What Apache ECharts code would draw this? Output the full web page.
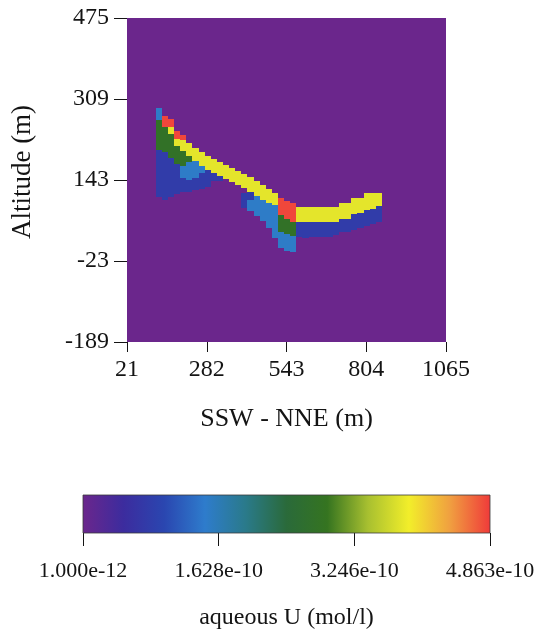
<!DOCTYPE html>
<html>
<head>
<meta charset="utf-8">
<script src="https://cdn.jsdelivr.net/npm/echarts@6/dist/echarts.min.js"></script>
<style>
  html, body { margin: 0; padding: 0; background: #ffffff; }
  #chart { width: 542px; height: 631px; }
</style>
</head>
<body>
<div id="chart"></div>
<script>
// Axis ticks of the cross-section and of the concentration colour bar
const X_TICKS = [21, 282, 543, 804, 1065];
const Y_TICKS = [-189, -23, 143, 309, 475];
const CBAR_TICKS = [1.000e-12, 1.628e-10, 3.246e-10, 4.863e-10];

// Colour table for aqueous U, evenly spaced from the lowest to the highest value
const COLORMAP = [
  '#6b268c', '#3c2c9e', '#2a46b0', '#2e7ccc', '#2a7a8a', '#2a6a3a',
  '#357420', '#a8c030', '#f2ee2a', '#f0a040', '#f03a3a'
];

// Concentration (mol/l) carried by each zone of the plume
const U_BACKGROUND = 1.0e-12;
const U_DEEP_BLUE = 8.0e-11;
const U_BLUE = 1.5e-10;
const U_GREEN = 2.8e-10;
const U_YELLOW = 3.8e-10;
const U_RED = 4.8e-10;

// Model domain: [xMin, xMax, yMin, yMax] in metres
const DOMAIN = [21, 1065, -189, 475];

// Mesh column width (m)
const CELL_W = 20;

// Plume cells per zone: [column centre x (m), top altitude (m), bottom altitude (m)]
const redCells = [
  [145, 275, 252], [165, 267, 252], [185, 244, 228], [205, 236, 224],
  [525, 107, 72], [545, 100, 64], [565, 96, 57]
];
const yellowCells = [
  [165, 252, 238], [185, 228, 213], [205, 224, 203], [225, 219, 192],
  [245, 209, 181], [265, 201, 172], [285, 193, 164], [305, 187, 158],
  [325, 180, 151], [345, 174, 145], [365, 168, 139], [385, 162, 133],
  [405, 156, 127], [425, 150, 119], [445, 141, 111], [465, 133, 102],
  [485, 125, 96], [505, 117, 92],
  [585, 88, 57], [605, 88, 57], [625, 88, 57], [645, 88, 57],
  [665, 88, 57], [685, 88, 57], [705, 88, 57], [725, 96, 64],
  [745, 96, 64], [765, 106, 74], [785, 106, 75], [805, 116, 81],
  [825, 116, 83], [845, 117, 89]
];
const greenCells = [
  [125, 265, 205], [145, 252, 201], [165, 238, 189], [185, 213, 176],
  [205, 203, 172], [225, 192, 180],
  [525, 72, 37], [545, 64, 33], [565, 57, 29]
];
const blueCells = [
  [125, 291, 265], [205, 172, 148], [225, 180, 143], [245, 181, 147],
  [265, 172, 158],
  [425, 102, 80], [445, 111, 70], [465, 102, 60], [485, 96, 45],
  [505, 92, 25],
  [525, 37, 4], [545, 33, -2], [565, 29, -4]
];
const deepBlueCells = [
  [125, 205, 109], [145, 201, 102], [165, 189, 109], [185, 176, 115],
  [205, 148, 119], [225, 143, 119], [245, 147, 123], [265, 158, 125],
  [285, 164, 129], [305, 158, 141], [325, 151, 141],
  [405, 117, 86], [425, 119, 102],
  [585, 57, 27], [605, 57, 25], [625, 57, 27], [645, 57, 27],
  [665, 57, 27], [685, 57, 27], [705, 57, 31], [725, 64, 37],
  [745, 64, 37], [765, 74, 40], [785, 75, 44], [805, 81, 48],
  [825, 83, 52], [845, 89, 57]
];

// Rows for the custom series: [concentration, x, top, bottom]
function zone(cells, conc) {
  return cells.map(c => [conc, c[0], c[1], c[2]]);
}
const plumeData = [].concat(
  zone(deepBlueCells, U_DEEP_BLUE),
  zone(blueCells, U_BLUE),
  zone(greenCells, U_GREEN),
  zone(yellowCells, U_YELLOW),
  zone(redCells, U_RED)
);
const domainData = [[U_BACKGROUND, DOMAIN[0], DOMAIN[1], DOMAIN[2], DOMAIN[3]]];

const FONT = 'Liberation Serif';
const INK = '#141414';

const chart = echarts.init(document.getElementById('chart'), null, { renderer: 'canvas' });

const gradientStops = COLORMAP.map((c, i) => ({ offset: i / (COLORMAP.length - 1), color: c }));

// pixel-snapped rectangle between two data corners
function cellRect(a, b, style) {
  const x0 = Math.round(Math.min(a[0], b[0]));
  const x1 = Math.round(Math.max(a[0], b[0]));
  const y0 = Math.round(Math.min(a[1], b[1]));
  const y1 = Math.round(Math.max(a[1], b[1]));
  return { type: 'rect', shape: { x: x0, y: y0, width: x1 - x0, height: y1 - y0 }, style: style };
}

chart.setOption({
  backgroundColor: '#ffffff',
  animation: false,
  grid: [
    { left: 127, top: 18, width: 319, height: 324 },
    { left: 83, top: 495, width: 407, height: 39 }
  ],
  visualMap: {
    show: false,
    type: 'continuous',
    min: CBAR_TICKS[0],
    max: CBAR_TICKS[CBAR_TICKS.length - 1],
    dimension: 0,
    seriesIndex: [0, 1],
    inRange: { color: COLORMAP }
  },
  xAxis: [
    {
      gridIndex: 0,
      type: 'value',
      min: X_TICKS[0],
      max: X_TICKS[X_TICKS.length - 1],
      axisLine: { show: false, onZero: false },
      axisTick: { show: true, customValues: X_TICKS, length: 10, lineStyle: { color: INK, width: 1 } },
      axisLabel: {
        customValues: X_TICKS, margin: 16, fontSize: 24, color: INK, fontFamily: FONT,
        formatter: v => String(v)
      },
      splitLine: { show: false },
      name: 'SSW - NNE (m)',
      nameLocation: 'middle',
      nameGap: 64,
      nameTextStyle: { fontSize: 26, color: INK, fontFamily: FONT }
    },
    {
      gridIndex: 1,
      type: 'value',
      min: CBAR_TICKS[0],
      max: CBAR_TICKS[CBAR_TICKS.length - 1],
      axisLine: { show: false, onZero: false },
      axisTick: { show: true, customValues: CBAR_TICKS, length: 13, lineStyle: { color: INK, width: 1 } },
      axisLabel: {
        customValues: CBAR_TICKS, margin: 27, fontSize: 22, color: INK, fontFamily: FONT,
        formatter: v => Number(v).toExponential(3)
      },
      splitLine: { show: false },
      name: 'aqueous U (mol/l)',
      nameLocation: 'middle',
      nameGap: 73,
      nameTextStyle: { fontSize: 24, color: INK, fontFamily: FONT }
    }
  ],
  yAxis: [
    {
      gridIndex: 0,
      type: 'value',
      min: Y_TICKS[0],
      max: Y_TICKS[Y_TICKS.length - 1],
      axisLine: { show: false, onZero: false },
      axisTick: { show: true, customValues: Y_TICKS, length: 13, lineStyle: { color: INK, width: 1 } },
      axisLabel: {
        customValues: Y_TICKS, margin: 18, fontSize: 24, color: INK, fontFamily: FONT,
        formatter: v => String(v)
      },
      splitLine: { show: false },
      name: 'Altitude (m)',
      nameLocation: 'middle',
      nameGap: 91,
      nameRotate: 90,
      nameTextStyle: { fontSize: 27, color: INK, fontFamily: FONT, padding: [0, 0, 0, 16] }
    },
    {
      gridIndex: 1,
      type: 'value',
      min: 0,
      max: 1,
      show: false
    }
  ],
  series: [
    {
      // low-concentration field filling the whole model domain
      name: 'domain',
      type: 'custom',
      xAxisIndex: 0,
      yAxisIndex: 0,
      silent: true,
      data: domainData,
      encode: { x: [1, 2], y: [3, 4] },
      renderItem: (params, api) => {
        const a = api.coord([api.value(1), api.value(4)]);
        const b = api.coord([api.value(2), api.value(3)]);
        return cellRect(a, b, { fill: api.visual('color') });
      }
    },
    {
      // plume cells
      name: 'aqueous U',
      type: 'custom',
      xAxisIndex: 0,
      yAxisIndex: 0,
      silent: true,
      data: plumeData,
      encode: { x: 1, y: [2, 3] },
      renderItem: (params, api) => {
        const x = api.value(1);
        const a = api.coord([x - CELL_W / 2, api.value(2)]);
        const b = api.coord([x + CELL_W / 2, api.value(3)]);
        return cellRect(a, b, { fill: api.visual('color') });
      }
    },
    {
      // colour bar
      name: 'colour bar',
      type: 'custom',
      xAxisIndex: 1,
      yAxisIndex: 1,
      silent: true,
      data: [[CBAR_TICKS[0], CBAR_TICKS[CBAR_TICKS.length - 1]]],
      renderItem: (params, api) => {
        const a = api.coord([api.value(0), 1]);
        const b = api.coord([api.value(1), 0]);
        return cellRect(a, b, {
          fill: new echarts.graphic.LinearGradient(0, 0, 1, 0, gradientStops),
          stroke: '#3a3a3a',
          lineWidth: 0.8
        });
      }
    }
  ]
});
</script>
</body>
</html>
